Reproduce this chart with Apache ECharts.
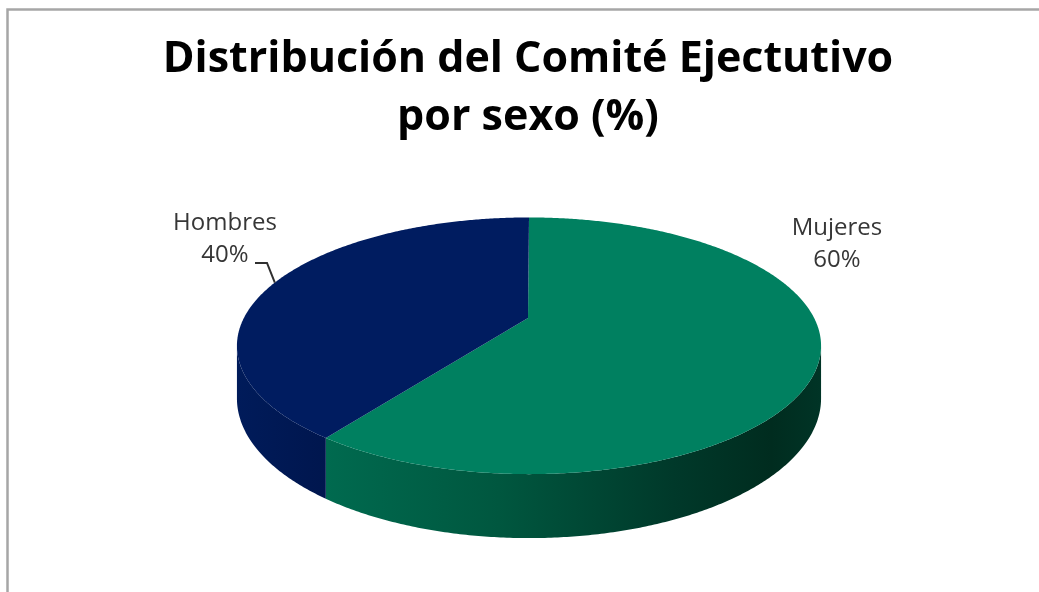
<!DOCTYPE html>
<html>
<head>
<meta charset="utf-8">
<style>
  html, body { margin: 0; padding: 0; background: #ffffff; }
  #chart { width: 1039px; height: 592px; }
</style>
<script src="https://cdn.jsdelivr.net/npm/echarts@6/dist/echarts.min.js"></script>
</head>
<body>
<div id="chart"></div>
<script>
// Data
const categories = ['Mujeres', 'Hombres'];
const shares = [60, 40];
const titleLines = ['Distribución del Comité Ejectutivo', 'por sexo (%)'];

// Look of the slices
const topColors = ['#008060', '#001c60'];
const sideStops = [
  [[0, '#006a4f'], [0.35, '#00573f'], [0.7, '#00392a'], [0.9, '#002c1f'], [1, '#003426']],
  [[0, '#001b5a'], [1, '#00164e']]
];

// Tilted-disc projection (perspective view of the pie)
const VIEW = { cx: 529, cy: 318, k: 1189, D: 4.17, sinT: 0.429, cosT: 0.903, H: 209 };

// Label placement for each slice
const LABELS = [
  { x: 837, y: 244 },
  { x: 225, y: 239, leader: [[255, 263], [267, 263]] }
];

function project(phi) {
  const u = Math.sin(phi), v = -Math.cos(phi);
  const den = VIEW.D - v * VIEW.cosT;
  return [VIEW.cx + VIEW.k * u / den, VIEW.cy + VIEW.k * v * VIEW.sinT / den, den];
}

function arc(a, b) {
  const n = Math.max(2, Math.ceil(Math.abs(b - a) / (Math.PI / 360)));
  const pts = [];
  for (let i = 0; i <= n; i++) pts.push(project(a + (b - a) * i / n));
  return pts;
}

const total = shares.reduce((s, v) => s + v, 0);
const phiR = Math.acos(-VIEW.cosT / VIEW.D);
const phiL = 2 * Math.PI - phiR;

function renderSlice(params, api) {
  const i = params.dataIndex;
  const value = api.value(0);
  let before = 0;
  for (let j = 0; j < i; j++) before += shares[j];
  const a = before / total * 2 * Math.PI;
  const b = (before + value) / total * 2 * Math.PI;
  const children = [];

  // visible outer wall
  const s0 = Math.max(a, phiR), s1 = Math.min(b, phiL);
  if (s1 > s0) {
    const upper = arc(s0, s1);
    const lower = upper.slice().reverse().map(p => [p[0], p[1] + VIEW.H / p[2]]);
    const pts = upper.map(p => [p[0], p[1]]).concat(lower);
    const xs = pts.map(p => p[0]);
    children.push({
      type: 'polygon',
      z2: 1,
      shape: { points: pts },
      style: {
        fill: {
          type: 'linear', global: true,
          x: Math.min(...xs), y: 0, x2: Math.max(...xs), y2: 0,
          colorStops: sideStops[i].map(s => ({ offset: s[0], color: s[1] }))
        }
      }
    });
  }

  // top face
  const topPts = [[VIEW.cx - 1, VIEW.cy]].concat(arc(a, b).map(p => [p[0], p[1]]));
  children.push({
    type: 'polygon',
    z2: 2,
    shape: { points: topPts },
    style: { fill: topColors[i] }
  });

  // label
  const pct = Math.round(value / total * 100) + '%';
  const lab = LABELS[i];
  children.push({
    type: 'text',
    z2: 3,
    style: {
      text: categories[i] + '\n' + pct,
      x: lab.x, y: lab.y,
      align: 'center', verticalAlign: 'middle',
      fontFamily: '"Open Sans", sans-serif', fontSize: 24, lineHeight: 32,
      fill: '#363636'
    }
  });
  if (lab.leader) {
    const mid = project((a + b) / 2);
    children.push({
      type: 'polyline',
      z2: 3,
      shape: { points: lab.leader.concat([[mid[0], mid[1]]]) },
      style: { stroke: '#303030', lineWidth: 2, fill: null }
    });
  }
  return { type: 'group', children };
}

const chart = echarts.init(document.getElementById('chart'), null, { renderer: 'canvas' });
chart.setOption({
  backgroundColor: '#ffffff',
  animation: false,
  graphic: [
    {
      type: 'rect',
      shape: { x: 7.5, y: 9.5, width: 1200, height: 800 },
      style: { fill: null, stroke: '#a6a6a6', lineWidth: 2.5 }
    },
    {
      type: 'text',
      x: 528, y: 31,
      style: {
        text: titleLines.join('\n'),
        align: 'center', verticalAlign: 'top',
        fontFamily: '"Open Sans", sans-serif', fontWeight: 'bold', fontSize: 43, lineHeight: 58,
        fill: '#000000'
      }
    }
  ],
  series: [{
    type: 'custom',
    coordinateSystem: 'none',
    renderItem: renderSlice,
    data: categories.map((name, i) => ({ name, value: [shares[i]] }))
  }]
});
</script>
</body>
</html>
